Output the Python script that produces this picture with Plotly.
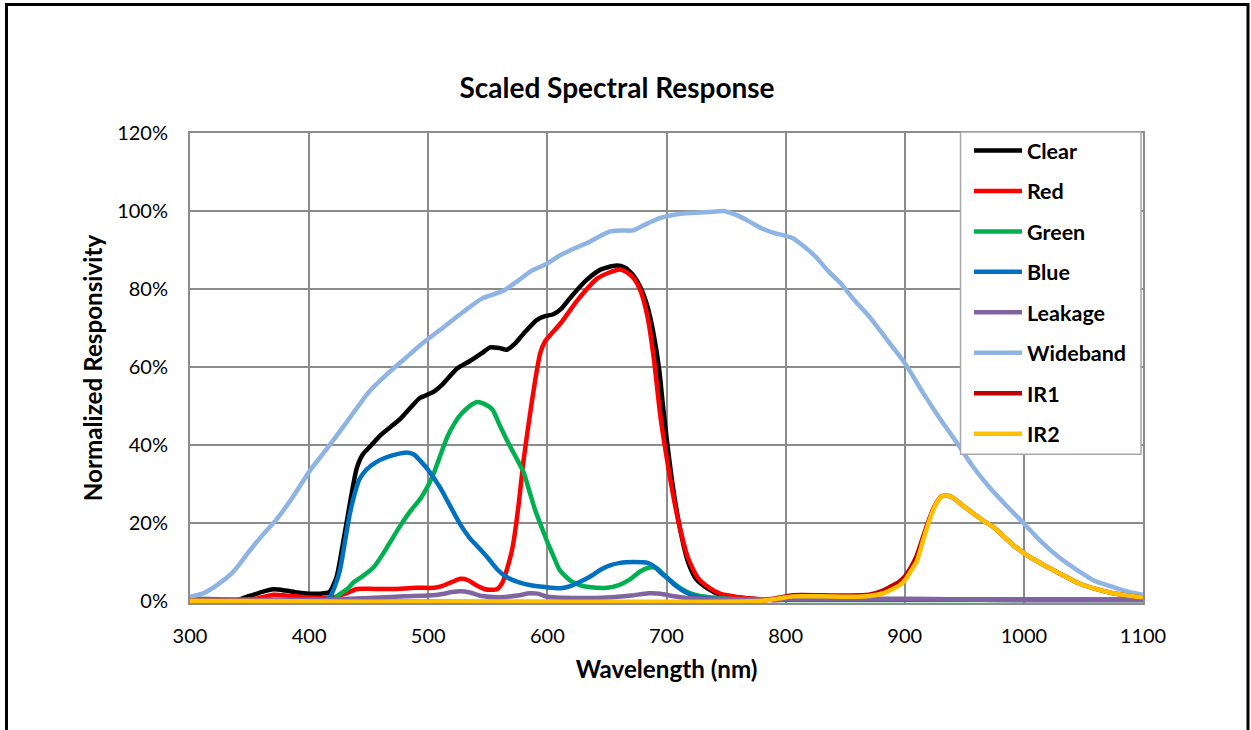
import plotly.graph_objects as go

# ---------------- data ----------------
clear_wl = [300, 340, 350, 360, 370, 380, 390, 400, 410, 417, 423, 428, 432, 436, 440, 445, 451, 460, 470, 476, 485, 493,
            504, 512, 524, 535, 545, 552, 560, 566, 573, 580, 591, 598, 605, 612, 620, 633, 645, 658, 665, 672, 678, 684,
            689, 694, 697, 700, 705, 711, 718, 725, 735, 745, 760, 775, 790, 800]
clear_val = [0, 0.2, 1.2, 2.2, 2.9, 2.6, 2.1, 1.8, 1.8, 2.2, 6, 14, 21, 28, 34, 37.5, 39.5, 42.5, 45, 46.5, 49.5, 52,
             53.5, 55.5, 59.5, 61.5, 63.5, 65, 64.8, 64.4, 66, 68.5, 72, 73, 73.5, 75, 78, 82.3, 85, 86, 85.5, 83.5, 80.5, 75.5,
             68.7, 59, 50, 42, 30, 19, 10, 5.5, 3, 1.5, 0.8, 0.4, 0.2, 0.3]

red_wl = [300, 340, 355, 370, 385, 400, 420, 432, 440, 455, 470, 490, 505, 512, 520, 527, 533, 540, 547, 552, 558, 562,
          567, 571, 576, 580, 585, 590, 594, 598, 602, 612, 625, 642, 652, 661, 668, 673, 678, 684, 689, 695, 700, 705,
          711, 718, 726, 735, 745, 760, 775, 790, 800]
red_val = [0, 0, 0.5, 1.5, 1.2, 0.8, 0.8, 2, 3, 3, 3, 3.3, 3.3, 3.8, 4.8, 5.6, 5.3, 4, 3, 2.8, 3, 4.5,
           9, 14, 25, 36, 47, 57, 63.5, 66.5, 68, 71.5, 77, 82.7, 84.2, 85, 84, 82.5, 79.7, 73, 63, 47, 37, 28,
           19, 11, 6, 3.5, 1.8, 0.9, 0.4, 0.2, 0.3]

green_wl = [300, 420, 425, 432, 437, 445, 454, 462, 470, 476, 485, 493, 499, 505, 511, 516, 522, 528, 535, 541, 547, 554,
            560, 568, 575, 580, 585, 590, 595, 600, 605, 610, 614, 620, 627, 635, 650, 660, 669, 678, 686, 692, 700, 708,
            717, 728, 739, 760, 800, 1100]
green_val = [0, 0, 1.5, 3, 4.6, 6.3, 8.5, 12, 16, 19, 23, 26, 29, 33, 38, 42, 45.5, 48, 50, 51, 50.5, 49,
             45, 40, 36, 33, 28, 23, 19, 15, 11.5, 8, 6.6, 5, 4, 3.5, 3.3, 4, 5.4, 7.5, 8.5, 8.3, 6, 4,
             2.3, 1.2, 0.8, 0.3, 0.2, 0.2]

blue_wl = [300, 415, 418, 422, 426, 430, 434, 437, 442, 448, 456, 465, 474, 482, 488, 493, 500, 510, 518, 527, 535, 543,
           550, 558, 566, 575, 585, 598, 611, 620, 628, 636, 645, 652, 661, 672, 684, 690, 695, 700, 708, 717, 725, 740,
           800, 1100]
blue_val = [0.5, 0.5, 1.2, 4, 8, 15, 22, 26, 31, 33.6, 35.5, 36.8, 37.6, 38, 37.5, 36, 33.5, 29, 24.5, 19.5, 16, 13.4,
            11, 8, 6, 4.8, 4, 3.5, 3.2, 3.8, 4.9, 6.2, 8, 9, 9.7, 9.9, 9.7, 8.7, 7.2, 6, 3.8, 2, 1, 0.5,
            0.3, 0.3]

leak_wl = [300, 420, 450, 480, 500, 512, 520, 527, 535, 545, 560, 575, 585, 592, 600, 620, 650, 670, 685, 695, 705, 720,
           750, 800, 900, 950, 1000, 1100]
leak_val = [0.3, 0.3, 0.7, 1.1, 1.3, 1.7, 2.2, 2.4, 2.1, 1.2, 0.9, 1.3, 1.9, 1.8, 1.0, 0.7, 0.8, 1.3, 1.9, 1.8, 1.2, 0.6,
            0.4, 0.4, 0.5, 0.3, 0.1, 0.1]

wide_wl = [300, 312, 325, 335, 342, 348, 360, 373, 385, 401, 415, 432, 450, 465, 480, 493, 510, 529, 545, 563, 575, 586,
           600, 610, 622, 635, 644, 652, 661, 672, 682, 695, 710, 720, 735, 748, 760, 770, 780, 790, 806, 815, 826, 836,
           846, 858, 871, 885, 900, 915, 930, 945, 957, 970, 985, 1000, 1015, 1030, 1045, 1060, 1072, 1085, 1100]
wide_val = [1, 2, 4.5, 7, 9.5, 12, 16.5, 21, 26, 33.5, 39, 46, 53.5, 58, 62, 65.5, 69.5, 74, 77.5, 79.5, 82, 84.5,
            86.5, 88.5, 90.3, 92, 93.5, 94.7, 95, 95, 96.5, 98.2, 99.2, 99.5, 99.7, 100, 98.8, 97.2, 95.5, 94.4, 93, 91, 88, 84.5,
            81.5, 77, 72.6, 67, 61, 53.5, 46.5, 40, 34.5, 29.5, 24.5, 19.8, 15, 11, 7.8, 5, 3.8, 2.5, 1.5]

ir1_wl = [300, 780, 795, 806, 830, 854, 870, 880, 888, 895, 900, 905, 910, 915, 920, 925, 930, 935, 940, 947, 957, 966,
          974, 983, 991, 1000, 1010, 1020, 1030, 1045, 1058, 1072, 1085, 1100]
ir1_val = [0, 0, 0.8, 1.4, 1.4, 1.3, 1.5, 2.4, 3.6, 4.8, 6.2, 8.5, 11.5, 16, 20.5, 24.2, 26.6, 27, 26.5, 24.8, 22.5, 20.5,
           19, 16.5, 14.3, 12.2, 10.3, 8.6, 7, 4.6, 3.2, 2.1, 1.4, 0.8]

ir2_wl = [300, 780, 795, 806, 830, 854, 870, 882, 890, 896, 901, 905, 910, 915, 920, 925, 930, 935, 940, 947, 957, 966,
          974, 983, 991, 1000, 1010, 1020, 1030, 1045, 1058, 1072, 1085, 1100]
ir2_val = [0, 0, 0.6, 1.1, 1.1, 1.0, 1.2, 1.9, 3, 4, 5.5, 7.5, 10, 15, 20, 24, 26.5, 27, 26.5, 24.8, 22.5, 20.5,
           19, 16.5, 14.3, 12.2, 10.3, 8.6, 7, 4.6, 3.2, 2.1, 1.4, 0.8]

series_names = ["Clear", "Red", "Green", "Blue", "Leakage", "Wideband", "IR1", "IR2"]
series_colors = ["#000000", "#FF0000", "#00B050", "#0070C0", "#8064A2", "#8EB4E3", "#C00000", "#FFC000"]
series_x = [clear_wl, red_wl, green_wl, blue_wl, leak_wl, wide_wl, ir1_wl, ir2_wl]
series_y = [clear_val, red_val, green_val, blue_val, leak_val, wide_val, ir1_val, ir2_val]

x_ticks = [300, 400, 500, 600, 700, 800, 900, 1000, 1100]
y_ticks = [0, 20, 40, 60, 80, 100, 120]

FONT = "Lato"
GRID = "#8C8C8C"

fig = go.Figure()
for name, xs, ys, col in zip(series_names, series_x, series_y, series_colors):
    fig.add_trace(go.Scatter(
        x=xs, y=ys, mode="lines", name=name, legendgroup=name,
        line=dict(color=col, width=4.5, shape="spline", smoothing=0.6),
    ))

W, H = 1251, 730
L, R, T = 190, 1143, 133
PX_PER = 468 / 120.0
ymin = -0.6
B = 601 + (0 - ymin) * PX_PER


def px_x(px):
    return (px - L) / (R - L)


def px_y(py):
    return (B - py) / (B - T)


fig.update_layout(
    width=W, height=H,
    margin=dict(l=L, r=W - R, t=T, b=H - B, pad=0),
    paper_bgcolor="white", plot_bgcolor="white",
    font=dict(family=FONT, color="#000000"),
    title=dict(text="<b>Scaled Spectral Response</b>", font=dict(size=28, family=FONT, color="black"),
               x=617 / W, xref="container", xanchor="center",
               y=1 - 88 / H, yref="container", yanchor="middle"),
    showlegend=True,
    legend=dict(
        x=px_x(969), y=px_y(130),
        xanchor="left", yanchor="top",
        bgcolor="rgba(0,0,0,0)", borderwidth=0,
        font=dict(family=FONT, size=21.5, color="black", weight="bold"),
        tracegroupgap=9.5, itemwidth=48,
    ),
    xaxis=dict(
        range=[300, 1100], tickmode="array", tickvals=x_ticks, ticktext=[str(v) for v in x_ticks],
        showgrid=True, gridcolor=GRID, gridwidth=2, zeroline=False,
        showline=True, linecolor=GRID, linewidth=2, mirror=True,
        ticks="", ticklabelstandoff=14,
        tickfont=dict(family=FONT, size=20, color="black"),
        title=dict(text="<b>Wavelength (nm)</b>", font=dict(family=FONT, size=24.2, color="black"), standoff=15),
    ),
    yaxis=dict(
        range=[ymin, 120], tickmode="array", tickvals=y_ticks, ticktext=[f"{v}%" for v in y_ticks],
        showgrid=True, gridcolor=GRID, gridwidth=2, zeroline=False,
        showline=True, linecolor=GRID, linewidth=2, mirror=True,
        ticks="", ticklabelstandoff=16,
        tickfont=dict(family=FONT, size=20, color="black"),
        title=dict(text="<b>Normalized Responsivity</b>", font=dict(family=FONT, size=24.2, color="black"), standoff=8),
    ),
)

# legend box (white panel with grey frame, sits over the curves)
fig.add_shape(type="rect", xref="paper", yref="paper",
              x0=px_x(960.5), x1=px_x(1141), y0=px_y(454.5), y1=px_y(132),
              line=dict(color="#A6A6A6", width=1.5), fillcolor="white", layer="above")

# outer chart border
fig.add_shape(type="rect", xref="paper", yref="paper",
              x0=px_x(6.5), x1=px_x(1248), y0=px_y(745), y1=px_y(4.5),
              line=dict(color="black", width=3), fillcolor="rgba(0,0,0,0)", layer="above")

fig.write_html("out.html", config={"displayModeBar": False},
               post_script="document.body.style.margin='0px';")
